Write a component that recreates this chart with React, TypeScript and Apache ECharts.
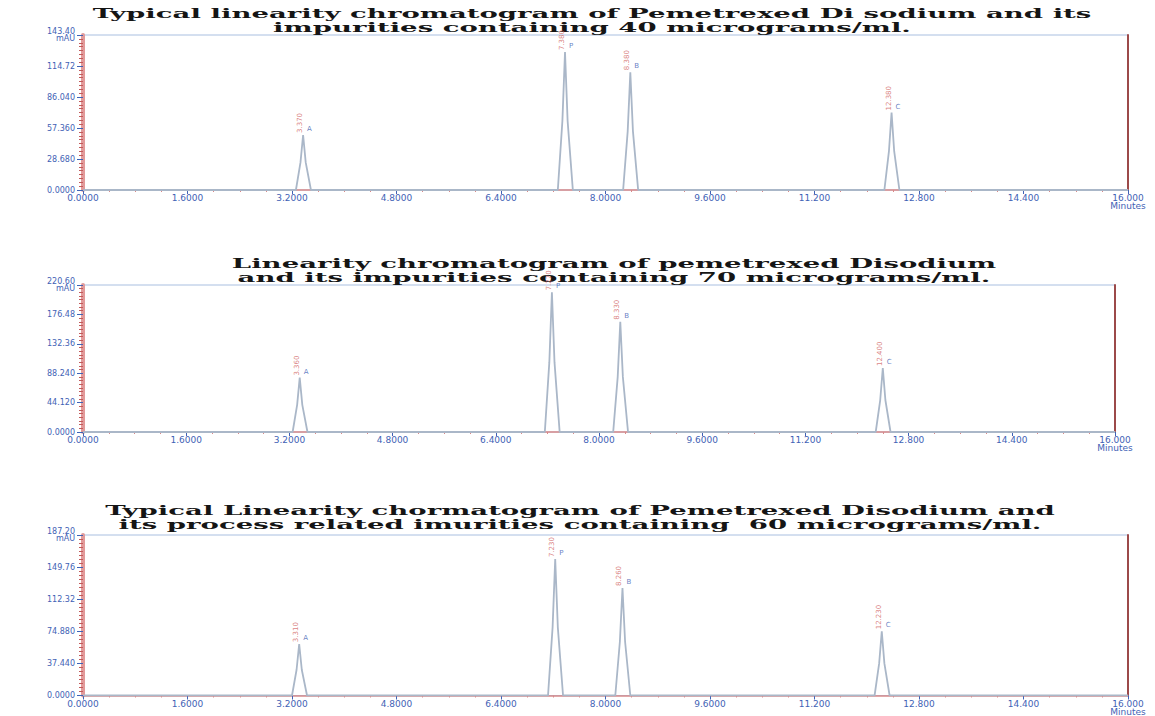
import React, { useEffect, useRef } from "react";
import * as echarts from "echarts";

// ---- data ----
const xTickLabels = ["0.0000", "1.6000", "3.2000", "4.8000", "6.4000", "8.0000", "9.6000", "11.200", "12.800", "14.400", "16.000\nMinutes"];

const y1TickLabels = ["0.0000", "28.680", "57.360", "86.040", "114.72", "143.40\nmAU"];
const y2TickLabels = ["0.0000", "44.120", "88.240", "132.36", "176.48", "220.60\nmAU"];
const y3TickLabels = ["0.0000", "37.440", "74.880", "112.32", "149.76", "187.20\nmAU"];

const peakNames = ["A", "P", "B", "C"];

const peaks1RT = [3.37, 7.38, 8.38, 12.38];
const peaks1H = [50.9, 127.6, 109.0, 71.7];
const trace1 = [
  [0, 0],
  [3.26, 0], [3.33, 25.5], [3.37, 50.9], [3.41, 25.5], [3.49, 0],
  [7.27, 0], [7.34, 63.8], [7.38, 127.6], [7.42, 63.8], [7.5, 0],
  [8.27, 0], [8.34, 54.5], [8.38, 109.0], [8.42, 54.5], [8.5, 0],
  [12.27, 0], [12.34, 35.9], [12.38, 71.7], [12.42, 35.9], [12.5, 0],
  [16, 0],
];

const peaks2RT = [3.36, 7.27, 8.33, 12.4];
const peaks2H = [81.6, 209.6, 165.5, 96.0];
const trace2 = [
  [0, 0],
  [3.25, 0], [3.32, 40.8], [3.36, 81.6], [3.4, 40.8], [3.48, 0],
  [7.16, 0], [7.23, 104.8], [7.27, 209.6], [7.31, 104.8], [7.39, 0],
  [8.22, 0], [8.29, 82.7], [8.33, 165.5], [8.37, 82.7], [8.45, 0],
  [12.29, 0], [12.36, 48.0], [12.4, 96.0], [12.44, 48.0], [12.52, 0],
  [16, 0],
];

const peaks3RT = [3.31, 7.23, 8.26, 12.23];
const peaks3H = [59.9, 159.1, 125.4, 74.9];
const trace3 = [
  [0, 0],
  [3.2, 0], [3.27, 30.0], [3.31, 59.9], [3.35, 30.0], [3.43, 0],
  [7.12, 0], [7.19, 79.5], [7.23, 159.1], [7.27, 79.5], [7.35, 0],
  [8.15, 0], [8.22, 62.7], [8.26, 125.4], [8.3, 62.7], [8.38, 0],
  [12.12, 0], [12.19, 37.4], [12.23, 74.9], [12.27, 37.4], [12.35, 0],
  [16, 0],
];

const titles = [
  ["Typical linearity chromatogram of Pemetrexed Di sodium and its", "impurities containing 40 micrograms/ml."],
  ["Linearity chromatogram of pemetrexed Disodium", "and its impurities containing 70 micrograms/ml."],
  ["Typical Linearity chormatogram of Pemetrexed Disodium and", "its process related imurities containing  60 micrograms/ml."],
];

const yMax = [143.4, 220.6, 187.2];
const yLabels = [y1TickLabels, y2TickLabels, y3TickLabels];
const traces = [trace1, trace2, trace3];
const peakRT = [peaks1RT, peaks2RT, peaks3RT];
const peakH = [peaks1H, peaks2H, peaks3H];

// ---- layout ----
const grids = [
  { left: 83, right: 27, top: 35, height: 155 },
  { left: 83, right: 40, top: 285, height: 147 },
  { left: 83, right: 27, top: 535, height: 168 },
];
const titlePos = [
  { x: 592, y: 7 },
  { x: 614, y: 257 },
  { x: 580, y: 504 },
];

const BLUE = "#3f62b5";
const RED = "#d06060";

export default function App() {
  const ref = useRef<HTMLDivElement>(null);
  useEffect(() => {
    if (!ref.current) return;
    const chart = echarts.init(ref.current, null, { renderer: "svg" });

    const xAxis: any[] = [];
    const yAxis: any[] = [];
    const series: any[] = [];
    const graphic: any[] = [];

    grids.forEach((g, i) => {
      xAxis.push({
        gridIndex: i,
        type: "value",
        min: 0,
        max: 16,
        interval: 1.6,
        axisLine: { show: true, lineStyle: { color: "#d98a8a", width: 1.5 } },
        axisTick: { show: true, length: 4, lineStyle: { color: BLUE } },
        minorTick: { show: true, splitNumber: 4, length: 2, lineStyle: { color: "#d98a8a" } },
        splitLine: { show: false },
        axisLabel: {
          color: BLUE,
          fontSize: 9,
          fontFamily: "DejaVu Sans",
          margin: 4,
          lineHeight: 8,
          formatter: (_v: number, idx: number) => xTickLabels[idx] ?? "",
        },
      });
      yAxis.push({
        gridIndex: i,
        type: "value",
        min: 0,
        max: yMax[i],
        interval: yMax[i] / 5,
        axisLine: { show: true, lineStyle: { color: "#e29a9a", width: 4 } },
        axisTick: { show: true, length: 6, lineStyle: { color: BLUE } },
        minorTick: { show: true, splitNumber: 8, length: 4, lineStyle: { color: "#c25a5a" } },
        splitLine: { show: false },
        axisLabel: {
          color: BLUE,
          fontSize: 8,
          fontFamily: "DejaVu Sans",
          margin: 8,
          lineHeight: 7,
          formatter: (_v: number, idx: number) => yLabels[i][idx] ?? "",
        },
      });
      // right border
      yAxis.push({
        gridIndex: i,
        type: "value",
        position: "right",
        min: 0,
        max: yMax[i],
        axisLine: { show: true, lineStyle: { color: "#9c4a4a", width: 2 } },
        axisTick: { show: false },
        axisLabel: { show: false },
        splitLine: { show: false },
      });

      series.push({
        type: "line",
        xAxisIndex: i,
        yAxisIndex: i * 2,
        data: traces[i],
        showSymbol: false,
        symbol: "none",
        lineStyle: { color: "#aab7c8", width: 1.8 },
        z: 3,
      });
      // retention time labels (red, vertical)
      series.push({
        type: "scatter",
        xAxisIndex: i,
        yAxisIndex: i * 2,
        symbolSize: 0,
        data: peakRT[i].map((rt, k) => [rt, peakH[i][k]]),
        label: {
          show: true,
          position: [-3, -2],
          rotate: 90,
          align: "left",
          verticalAlign: "middle",
          fontSize: 7,
          color: RED,
          fontFamily: "DejaVu Sans",
          formatter: (p: any) => p.value[0].toFixed(3),
        },
        z: 4,
      });
      // peak names (blue)
      series.push({
        type: "scatter",
        xAxisIndex: i,
        yAxisIndex: i * 2,
        symbolSize: 0,
        data: peakRT[i].map((rt, k) => [rt, peakH[i][k]]),
        label: {
          show: true,
          position: [4, -6],
          align: "left",
          verticalAlign: "middle",
          fontSize: 7,
          color: BLUE,
          fontFamily: "DejaVu Sans",
          formatter: (p: any) => peakNames[p.dataIndex],
        },
        z: 4,
      });

      titles[i].forEach((t, li) => {
        graphic.push({
          type: "text",
          x: titlePos[i].x,
          y: titlePos[i].y + li * 14,
          scaleX: 2.12,
          style: {
            text: t,
            x: 0,
            y: 0,
            fontSize: 13,
            fontWeight: "bold",
            fontFamily: "DejaVu Serif",
            fill: "#151515",
            textAlign: "center",
            textVerticalAlign: "top",
          },
        });
      });
    });

    chart.setOption({
      animation: false,
      backgroundColor: "#ffffff",
      grid: grids.map((g) => ({
        ...g,
        show: true,
        borderColor: "#a9bfe0",
        borderWidth: 1,
        backgroundColor: "transparent",
      })),
      xAxis,
      yAxis,
      series,
      graphic,
    });
    return () => chart.dispose();
  }, []);
  return (
    <div
      ref={ref}
      style={{ position: "fixed", left: 0, top: 0, width: 1155, height: 716, background: "#fff" }}
    />
  );
}
